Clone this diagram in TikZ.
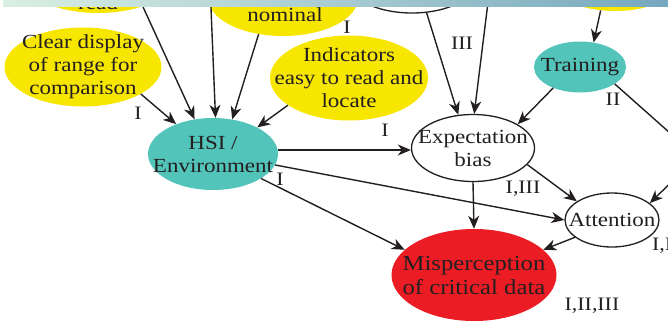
\documentclass[tikz,border=0pt]{standalone}
\usepackage{fontspec}
\setmainfont{Liberation Serif}[FakeStretch=1.15]
\usetikzlibrary{shapes.geometric,arrows.meta}

\definecolor{hsiteal}{HTML}{52C4BA}
\definecolor{cueyellow}{HTML}{F7E600}
\definecolor{errred}{HTML}{EC1C24}
\definecolor{inkgray}{HTML}{231F20}
\definecolor{barleft}{HTML}{DAEFE3}
\definecolor{barmid}{HTML}{B2D5D1}
\definecolor{barright}{HTML}{76A8BE}

\begin{document}
\begin{tikzpicture}[x=1pt,y=-1pt,
  % negative inner sep lets the minimum sizes fix the ellipse exactly
  blob/.style={ellipse, inner sep=-30pt, align=center, text=inkgray,
               font=\fontsize{20}{23}\selectfont},
  factor/.style={blob, fill=cueyellow},
  agent/.style={blob, fill=hsiteal},
  state/.style={blob, draw=inkgray, line width=1.3pt, fill=white},
  outcome/.style={blob, fill=errred, font=\fontsize{21.5}{24}\selectfont},
  link/.style={draw=inkgray, line width=1.4pt,
               -{Stealth[length=13pt,width=11pt,inset=4pt]}},
  tag/.style={text=inkgray, inner sep=0pt, font=\fontsize{19}{22}\selectfont},
  plain/.style={text=inkgray, inner sep=0pt, font=\fontsize{20}{23}\selectfont},
]
\useasboundingbox (0,0) rectangle (668,322);
\clip (0,0) rectangle (668,322);

% factors running off the upper edge
\node[factor, minimum width=156pt, minimum height=76pt] (read) at (98,-25) {};
\node[plain] (readtxt) at (98,3) {read};
\node[factor, minimum width=150pt, minimum height=76pt] (nominal) at (283,-2) {};
\node[plain] (nominaltxt) at (285,15) {nominal};
\node[state, minimum width=130pt, minimum height=66pt] (upper) at (412,-20) {};
\node[factor, minimum width=145pt, minimum height=80pt] (topright) at (615,-29) {};
\coordinate (srcB) at (209,-40);
\coordinate (srcG) at (492,-30);

% visible nodes
\node[factor, minimum width=157pt, minimum height=79pt] (clear) at (83,67)
  {Clear display\\of range for\\comparison};
\node[factor, minimum width=158pt, minimum height=85pt] (ind) at (349,78)
  {Indicators\\easy to read and\\locate};
\node[agent, minimum width=130pt, minimum height=72pt] (hsi) at (213,154)
  {HSI /\\Environment};
\node[agent, minimum width=92pt, minimum height=51pt] (train) at (580,67)
  {Training};
\node[state, minimum width=123pt, minimum height=67pt] (exp) at (473,148)
  {Expectation\\bias};
\node[state, minimum width=94pt, minimum height=54pt] (att) at (612,220)
  {Attention};
\node[outcome, minimum width=165pt, minimum height=92pt] (mis) at (474,275)
  {Misperception\\of critical data};
\coordinate (bend) at (697,157);

% connectors
\draw[link] (read.-35) -- (hsi.118);
\draw[link] (srcB) -- (hsi.86);
\draw[link] (nominal.-124) -- (hsi.61);
\draw[link] (ind.-156) -- (hsi.31);
\draw[link] (clear.-25) -- (hsi.141);
\draw[link] ([yshift=4pt]hsi.east) -- ([yshift=-2pt]exp.west);
\draw[link] (hsi.-10) -- (att.west);
\draw[link] (hsi.-27) -- (mis.160);
\draw[link] (exp.south) -- (mis.north);
\draw[link] (exp.-17) -- (att.152);
\draw[link] (att.-155) -- (mis.20);
\draw[link] (train.-142) -- (exp.28);
\draw[link] (topright.-110) -- (train.61);
\draw[link] (upper.-66) -- (exp.114);
\draw[link] (srcG) -- (exp.88);
\draw[link] (train.-26) -- (bend) -- (att.24);

% connector tags
\node[tag] (t1) at (138,113) {I};
\node[tag] (t2) at (347,27) {I};
\node[tag] (t3) at (462,43) {III};
\node[tag] (t4) at (613,99) {II};
\node[tag] (t5) at (385,130) {I};
\node[tag] (t6) at (280,179) {I};
\node[tag] (t7) at (523,189) {I,III};
\node[tag, anchor=west] (t8) at (652,246) {I,II};
\node[tag] (t9) at (592,306) {I,II,III};

% header band
\shade[left color=barleft, middle color=barmid, right color=barright]
  (3,0) rectangle (668,6.5);
\end{tikzpicture}
\end{document}
